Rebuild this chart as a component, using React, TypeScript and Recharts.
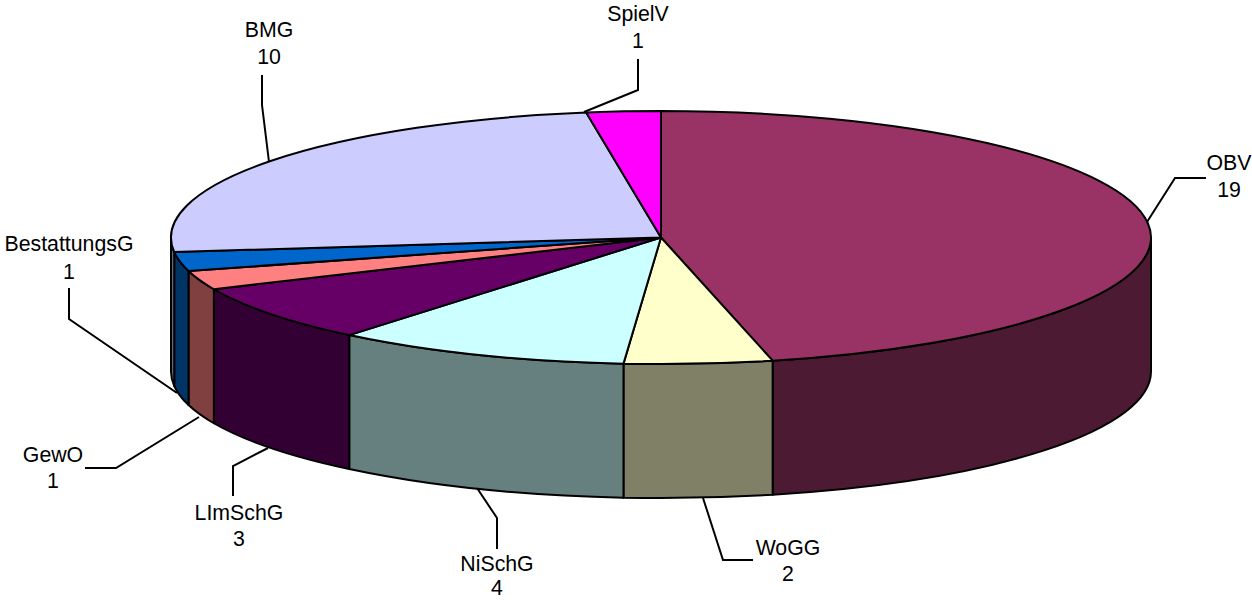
import React from "react";
import { PieChart, Pie, Cell } from "recharts";

const categories = ["OBV", "WoGG", "NiSchG", "LImSchG", "GewO", "BestattungsG", "BMG", "SpielV"];
const counts = [19, 2, 4, 3, 1, 1, 10, 1];
const topColors = ["#993366", "#ffffcc", "#ccffff", "#660066", "#ff8080", "#0066cc", "#ccccff", "#ff00ff"];
const wallColors = ["#4d1a33", "#808066", "#668080", "#330033", "#804040", "#003366", "#666680", "#800080"];

const tableData = categories.map((name, i) => ({ name, value: counts[i] }));

// where each label sits (center x, two baselines) and its leader line
const labelLayout: Record<string, { x: number; y1: number; y2: number; line: string }> = {
  OBV: { x: 1229, y1: 170, y2: 197, line: "1206,178 1175,178 1147,222" },
  WoGG: { x: 788, y1: 555, y2: 581, line: "753,560 723,560 703,498" },
  NiSchG: { x: 497, y1: 571, y2: 595, line: "497,549 497,518 477,488" },
  LImSchG: { x: 239, y1: 520, y2: 546, line: "233,496 233,466 268,448" },
  GewO: { x: 53, y1: 462, y2: 488, line: "85,468 116,468 199,417" },
  BestattungsG: { x: 69, y1: 251, y2: 279, line: "69,288 69,319 177,393" },
  BMG: { x: 269, y1: 37, y2: 64, line: "262,75 262,105 269,162" },
  SpielV: { x: 638, y1: 21, y2: 48, line: "638,59 638,90 584,112" },
};

const CX = 661;
const CY = 237.5;
const RADIUS = 490;
const SQUASH = 126.5 / 490;
const DEPTH = 134;
const STROKE = 2;

const point = (cx: number, cy: number, r: number, deg: number) => {
  const a = (deg * Math.PI) / 180;
  return { x: cx + r * Math.cos(a), y: cy - r * SQUASH * Math.sin(a) };
};

// slice top, recharts gives the angles, we flatten them to an ellipse
const TopSlice = (props: any) => {
  const { cx, cy, outerRadius, startAngle, endAngle, fill } = props;
  const p1 = point(cx, cy, outerRadius, startAngle);
  const p2 = point(cx, cy, outerRadius, endAngle);
  const large = Math.abs(startAngle - endAngle) > 180 ? 1 : 0;
  const d = `M${cx},${cy} L${p1.x},${p1.y} A${outerRadius},${outerRadius * SQUASH} 0 ${large} 1 ${p2.x},${p2.y} Z`;
  return <path d={d} fill={fill} stroke="#000" strokeWidth={STROKE} strokeLinejoin="round" />;
};

// side wall, only the part in the front half of the ellipse is visible
const WallSlice = (props: any) => {
  const { cx, cy, outerRadius, startAngle, endAngle, fill } = props;
  const hi = Math.min(startAngle, 0);
  const lo = Math.max(endAngle, -180);
  if (hi <= lo) return <g />;
  const p1 = point(cx, cy, outerRadius, hi);
  const p2 = point(cx, cy, outerRadius, lo);
  const rx = outerRadius;
  const ry = outerRadius * SQUASH;
  const d = `M${p1.x},${p1.y} A${rx},${ry} 0 0 1 ${p2.x},${p2.y} L${p2.x},${p2.y + DEPTH} A${rx},${ry} 0 0 0 ${p1.x},${p1.y + DEPTH} Z`;
  return <path d={d} fill={fill} stroke="#000" strokeWidth={STROKE} strokeLinejoin="round" />;
};

const SliceLabel = (props: any) => {
  const { name, value } = props;
  const l = labelLayout[name];
  if (!l) return <g />;
  return (
    <g>
      <polyline points={l.line} fill="none" stroke="#000" strokeWidth={2} />
      <text x={l.x} y={l.y1} textAnchor="middle" fontFamily="Liberation Sans" fontSize={21.3} fill="#000">
        {name}
      </text>
      <text x={l.x} y={l.y2} textAnchor="middle" fontFamily="Liberation Sans" fontSize={21.3} fill="#000">
        {value}
      </text>
    </g>
  );
};

export default function App() {
  return (
    <div style={{ position: "absolute", left: 0, top: 0, width: 1252, height: 600, overflow: "hidden" }}>
      <PieChart width={1252} height={600} margin={{ top: 0, right: 0, bottom: 0, left: 0 }}>
        <Pie
          data={tableData}
          dataKey="value"
          nameKey="name"
          cx={CX}
          cy={CY}
          innerRadius={0}
          outerRadius={RADIUS}
          startAngle={90}
          endAngle={-270}
          shape={WallSlice}
          isAnimationActive={false}
        >
          {wallColors.map((c) => (
            <Cell key={c} fill={c} />
          ))}
        </Pie>
        <Pie
          data={tableData}
          dataKey="value"
          nameKey="name"
          cx={CX}
          cy={CY}
          innerRadius={0}
          outerRadius={RADIUS}
          startAngle={90}
          endAngle={-270}
          shape={TopSlice}
          label={SliceLabel}
          labelLine={false}
          isAnimationActive={false}
        >
          {topColors.map((c) => (
            <Cell key={c} fill={c} />
          ))}
        </Pie>
      </PieChart>
    </div>
  );
}
